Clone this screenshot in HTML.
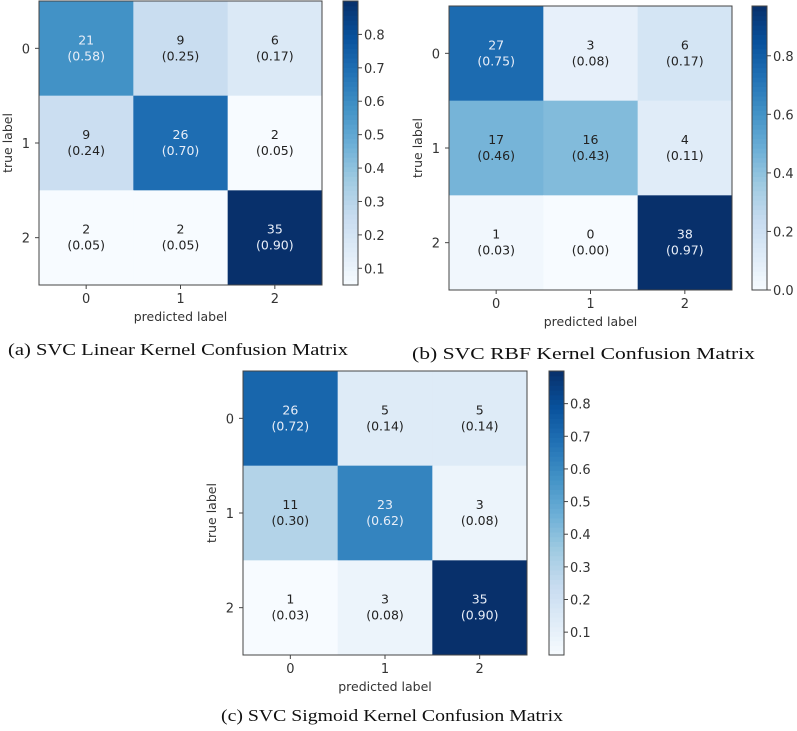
<!DOCTYPE html>
<html><head><meta charset="utf-8">
<style>
html,body{margin:0;padding:0;background:#fff;}
svg{display:block;}
text{font-family:"DejaVu Sans","Liberation Sans",sans-serif;}
.cap{font-family:"Liberation Serif",serif;font-size:17px;fill:#111;}
</style></head>
<body>
<svg id="root" width="797" height="731" viewBox="0 0 797 731"></svg>
<script>
// Chart data
const classLabels = ["0","1","2"];
const countsA = [[21,9,6],[9,26,2],[2,2,35]];
const normA = [[0.58,0.25,0.17],[0.24,0.70,0.05],[0.05,0.05,0.90]];
const countsB = [[27,3,6],[17,16,4],[1,0,38]];
const normB = [[0.75,0.08,0.17],[0.46,0.43,0.11],[0.03,0.00,0.97]];
const countsC = [[26,5,5],[11,23,3],[1,3,35]];
const normC = [[0.72,0.14,0.14],[0.30,0.62,0.08],[0.03,0.08,0.90]];
const ticksA = [0.1,0.2,0.3,0.4,0.5,0.6,0.7,0.8];
const ticksB = [0.0,0.2,0.4,0.6,0.8];
const ticksC = [0.1,0.2,0.3,0.4,0.5,0.6,0.7,0.8];
const captionA = "(a) SVC Linear Kernel Confusion Matrix";
const captionB = "(b) SVC RBF Kernel Confusion Matrix";
const captionC = "(c) SVC Sigmoid Kernel Confusion Matrix";

const NS="http://www.w3.org/2000/svg";
const root=document.getElementById('root');
const stops=["#f7fbff","#deebf7","#c6dbef","#9ecae1","#6baed6","#4292c6","#2171b5","#08519c","#08306b"];
function hex(h){return [parseInt(h.substr(1,2),16),parseInt(h.substr(3,2),16),parseInt(h.substr(5,2),16)];}
function blues(t){t=Math.max(0,Math.min(1,t));const p=t*8,i=Math.min(7,Math.floor(p)),f=p-i;
 const a=hex(stops[i]),b=hex(stops[i+1]);return "rgb("+a.map((v,k)=>Math.round(v+(b[k]-v)*f)).join(",")+")";}
function el(tag,attrs,parent){const e=document.createElementNS(NS,tag);for(const k in attrs)e.setAttribute(k,attrs[k]);(parent||root).appendChild(e);return e;}

function drawChart(cfg,counts,norm,ticks,caption,prefix){
 const g=el('g',{});
 
 
 const vals=norm.flat();const vmin=cfg.vmin,vmax=cfg.vmax;
 const thresh=(Math.max(...vals)+Math.min(...vals))/2;
 const n=classLabels.length,cw=(cfg.x1-cfg.x0)/n,ch=(cfg.y1-cfg.y0)/n;
 const xs=j=>cfg.x0+j*cw, ys=i=>cfg.y0+i*ch;
 for(let i=0;i<n;i++)for(let j=0;j<n;j++){
  const v=norm[i][j];
  const r=el('rect',{x:xs(j),y:ys(i),width:cw+0.5,height:ch+0.5,fill:blues((v-vmin)/(vmax-vmin))},g);
  
  
  const col=v>thresh?"#e8eef8":"#222";
  const t=el('text',{x:xs(j)+cw/2,y:ys(i)+ch/2-4,'text-anchor':'middle','font-size':12.5,fill:col},g);
  t.textContent=counts[i][j];
  
  
  const t2=el('text',{x:xs(j)+cw/2,y:ys(i)+ch/2+12,'text-anchor':'middle','font-size':12.5,fill:col},g);
  t2.textContent="("+v.toFixed(2)+")";
  
  
 }
 el('rect',{x:cfg.x0,y:cfg.y0,width:cfg.x1-cfg.x0,height:cfg.y1-cfg.y0,fill:'none',stroke:'#444','stroke-width':1},g);
 for(let k=0;k<n;k++){
  const cx=xs(k)+cw/2, cy=ys(k)+ch/2;
  el('line',{x1:cx,x2:cx,y1:cfg.y1,y2:cfg.y1+4,stroke:'#444'},g);
  const tx=el('text',{x:cx,y:cfg.y1+18,'text-anchor':'middle','font-size':13,fill:'#333'},g);
  tx.textContent=classLabels[k];
  
  
  el('line',{x1:cfg.x0-4,x2:cfg.x0,y1:cy,y2:cy,stroke:'#444'},g);
  const ty=el('text',{x:cfg.x0-9,y:cy+5,'text-anchor':'end','font-size':13,fill:'#333'},g);
  ty.textContent=classLabels[k];
  
  
 }
 const xl=el('text',{x:(cfg.x0+cfg.x1)/2,y:cfg.y1+36,'text-anchor':'middle','font-size':12.5,fill:'#333'},g);
 xl.textContent="predicted label";
 
 
 const ym=(cfg.y0+cfg.y1)/2;
 const yl=el('text',{x:cfg.x0-27,y:ym,'text-anchor':'middle','font-size':12.5,fill:'#333',transform:'rotate(-90 '+(cfg.x0-27)+' '+ym+')'},g);
 yl.textContent="true label";
 
 
 const cb=el('g',{},g);
 
 
 const steps=60,hh=(cfg.y1-cfg.y0)/steps;
 for(let s=0;s<steps;s++){
  el('rect',{x:cfg.cbx,y:cfg.y1-(s+1)*hh,width:15,height:hh+0.6,fill:blues((s+0.5)/steps)},cb);
 }
 el('rect',{x:cfg.cbx,y:cfg.y0,width:15,height:cfg.y1-cfg.y0,fill:'none',stroke:'#444'},cb);
 const cy=v=>cfg.y1-(v-vmin)/(vmax-vmin)*(cfg.y1-cfg.y0);
 ticks.forEach(tv=>{
  const y=cy(tv);
  el('line',{x1:cfg.cbx+15,x2:cfg.cbx+19,y1:y,y2:y,stroke:'#444'},cb);
  const tt=el('text',{x:cfg.cbx+21,y:y+5,'font-size':13,fill:'#333'},cb);
  tt.textContent=tv.toFixed(1);
  
  
 });
 const c=el('text',{x:cfg.capx,y:cfg.capy,class:'cap',textLength:cfg.capw,lengthAdjust:'spacingAndGlyphs'},g);
 c.textContent=caption;
 
 
}
drawChart({x0:39,x1:322,y0:1,y1:285,cbx:343,vmin:0.05,vmax:0.90,capx:8,capw:340,capy:355},countsA,normA,ticksA,captionA,'chart-a');
drawChart({x0:449,x1:732,y0:6,y1:290,cbx:752,vmin:0.0,vmax:0.97,capx:412,capw:343,capy:359},countsB,normB,ticksB,captionB,'chart-b');
drawChart({x0:243,x1:527,y0:371,y1:655,cbx:549,vmin:0.03,vmax:0.90,capx:221,capw:342,capy:721},countsC,normC,ticksC,captionC,'chart-c');
</script>
</body></html>
